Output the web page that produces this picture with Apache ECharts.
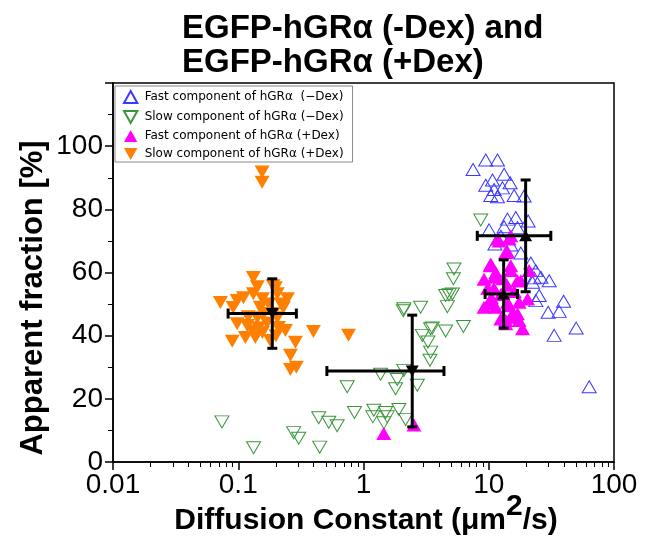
<!DOCTYPE html>
<html>
<head>
<meta charset="utf-8">
<script src="https://cdn.jsdelivr.net/npm/echarts@6/dist/echarts.min.js"></script>
<style>html,body{margin:0;padding:0;background:#fff}#c{width:664px;height:536px}</style>
</head>
<body>
<div id="c"></div>
<script>
// ---- data (Diffusion constant [um^2/s], apparent fraction [%]) ----
const seriesNames = [
  'Fast component of hGR\u03b1  (\u2212Dex)',
  'Slow component of hGR\u03b1 (\u2212Dex)',
  'Fast component of hGR\u03b1 (+Dex)',
  'Slow component of hGR\u03b1 (+Dex)'
];
const fastMinusDex = [
  [7.49,92.6],[9.46,95.6],[11.74,95.6],[13.26,91.1],[9.46,87.6],[10.71,89.3],[11.03,86.3],[12.87,86.8],
  [14.81,88.4],[10.38,84.4],[11.74,84.0],[15.94,84.4],[19.16,84.2],[10.06,73.5],[13.26,74.5],[14.11,76.9],
  [16.44,77.4],[16.97,74.2],[20.63,76.3],[15.0,68.7],[18.03,66.2],[21.68,63.0],[23.77,60.6],[23.04,58.3],
  [26.06,58.5],[30.37,57.4],[22.37,56.9],[25.26,52.7],[23.77,51.1],[39.6,50.9],[36.5,47.7],[29.8,47.4],
  [49.9,42.4],[33.3,40.1],[63.4,23.8],[12.5,71.5],[11.2,69]
];
const slowMinusDex = [
  [0.0741,12.7],[0.1326,4.5],[0.277,9.3],[0.304,7.5],[0.439,14.0],[0.528,12.6],[0.616,11.5],[0.447,4.7],
  [0.741,23.8],[0.847,15.7],[1.209,16.4],[1.187,14.3],[1.5,15.7],[1.547,14.3],[1.453,12.4],[1.916,16.6],
  [2.168,13.5],[1.368,27.8],[1.86,26.1],[1.803,23.2],[2.689,24.3],[2.101,48.5],[2.858,49.0],[2.949,40.1],
  [3.436,42.2],[3.27,38.0],[3.436,34.8],[3.392,32.2],[4.529,41.5],[4.529,52.7],[4.673,49.2],[8.63,76.6],
  [5.278,61.1],[5.22,58.0],[4.814,53.0],[5.124,53.2],[2.078,47.9],[3.545,42.4],[6.275,42.9],[2.1,29.0]
];
const fastPlusDex = [
  [12.09,70.0],[15.0,71.6],[14.11,66.6],[10.24,62.1],[9.17,57.9],[11.03,58.5],[15.0,62.1],[16.97,57.4],
  [21.0,60.6],[11.74,70.6],[14.53,70.6],[13.68,66.3],[10.38,62.7],[11.38,60.0],[15.0,60.6],[18.03,57.4],
  [10.06,50.6],[11.38,49.0],[14.11,50.6],[17.48,50.6],[20.4,51.6],[15.0,45.8],[18.61,42.2],[13.68,43.8],
  [16.97,46.9],[12.47,45.3],[10.38,50.1],[9.17,49.0],[14.53,49.5],[15.48,46.9],[17.48,44.8],[13.68,44.8],
  [11.0,55.0],[12.5,53.0],[14.0,56.0],[10.5,52.0],[13.0,58.0],[16.0,54.0],[9.8,55.0],
  [1.45,9.05],[2.53,11.7]
];
const slowPlusDex = [
  [0.155,91.8],[0.155,88.6],[0.072,50.5],[0.098,51.1],[0.091,48.9],[0.132,58.4],[0.142,55.5],[0.198,55.2],
  [0.132,53.3],[0.156,51.7],[0.247,51.7],[0.229,48.9],[0.098,43.8],[0.118,43.2],[0.114,39.4],[0.0895,38.2],
  [0.137,39.4],[0.156,41.0],[0.209,42.6],[0.238,41.6],[0.398,41.3],[0.759,40.1],[0.286,37.9],[0.261,33.8],
  [0.261,29.3],[0.291,30.0],[0.18,38.5],[0.142,45.7],[0.205,45.7],[0.19,55.8],[0.205,53.3],[0.16,47],
  [0.17,44],[0.12,46],[0.15,49],[0.19,47],[0.175,50],[0.13,41.5],[0.145,42.5],[0.2,40],[0.11,52],[0.22,50]
];
// mean and standard deviation of each component (order as seriesNames)
const meanX = [19.7, 2.45, 13.15, 0.187];
const meanY = [71.6, 28.8, 53.2, 47.0];
const sdX   = [11.6, 1.94, 3.8, 0.104];
const sdY   = [17.7, 17.7, 10.8, 11.0];
const meanUp = [true, false, true, false];
// axis ticks
const xTicks = [0.01, 0.1, 1, 10, 100];
const yTicks = [0, 20, 40, 60, 80, 100];

const colors = ['#3a3aff', '#3a963a', '#ff00ff', '#ff8000'];
const UP = 'path://M5,0L10,9L0,9Z';
const DOWN = 'path://M0,0L10,0L5,9Z';
const xMinor = [];
for (let d = 0; d < xTicks.length - 1; d++) for (let k = 2; k <= 9; k++) xMinor.push(+(xTicks[d] * k).toPrecision(3));

const errData = meanX.map((m, i) => [m, meanY[i], sdX[i], sdY[i]]);

const chart = echarts.init(document.getElementById('c'), null, {renderer: 'canvas'});
const FONT = 'Liberation Sans, Arial, sans-serif';

function scatter(name, data, color, hollow, down, z) {
  return {
    name, type: 'scatter', data, z,
    symbol: down ? DOWN : UP, symbolSize: hollow ? [14, 12] : [15, 13],
    itemStyle: hollow ? {color: 'rgba(255,255,255,0)', borderColor: color, borderWidth: 1, opacity: 1}
                      : {color: color, opacity: 1},
    emphasis: {disabled: true}, silent: true
  };
}

chart.setOption({
  animation: false,
  backgroundColor: '#fff',
  title: {
    text: 'EGFP-hGR\u03b1 (-Dex) and\nEGFP-hGR\u03b1 (+Dex)',
    left: 177, top: 7,
    textStyle: {fontFamily: FONT, fontSize: 33, fontWeight: 'bold', color: '#000', lineHeight: 34}
  },
  grid: {left: 113, right: 50, top: 83, bottom: 74, show: true, borderColor: '#000', borderWidth: 1.5, backgroundColor: 'transparent'},
  legend: {
    data: seriesNames, orient: 'vertical', left: 115, top: 86,
    backgroundColor: '#fff', borderColor: '#888', borderWidth: 1, borderRadius: 0,
    padding: [4, 9, 2, 8], itemGap: 6, itemWidth: 14, itemHeight: 12,
    textStyle: {fontFamily: 'DejaVu Sans', fontSize: 12, color: '#000', padding: [0, 0, 0, 2]},
    selectedMode: false
  },
  xAxis: [{
    type: 'log', logBase: 10, min: 0.01, max: 100,
    axisLine: {show: true, lineStyle: {color: '#000', width: 1.5}},
    axisTick: {show: true, length: 8, lineStyle: {color: '#000', width: 1.5}},
    axisLabel: {fontFamily: FONT, fontSize: 28, color: '#000', margin: 9,
      formatter: v => { const t = xTicks.find(a => Math.abs(Math.log10(a) - Math.log10(v)) < 1e-6); return t === undefined ? '' : String(t); }},
    splitLine: {show: false}
  }, {
    type: 'log', logBase: 10, min: 0.01, max: 100, position: 'bottom',
    axisLine: {show: false},
    axisTick: {show: true, length: 5, customValues: xMinor, lineStyle: {color: '#000', width: 1}},
    axisLabel: {show: false},
    splitLine: {show: false}
  }],
  yAxis: {
    type: 'value', min: 0, max: 120, interval: 20,
    axisLine: {show: true, lineStyle: {color: '#000', width: 1.5}},
    axisTick: {show: true, length: 8, lineStyle: {color: '#000', width: 1.5}},
    minorTick: {show: true, splitNumber: 2, length: 5, lineStyle: {color: '#000', width: 1}},
    axisLabel: {fontFamily: FONT, fontSize: 28, color: '#000', margin: 10, showMaxLabel: false,
      formatter: v => yTicks.includes(v) ? String(v) : ''},
    splitLine: {show: false}
  },
  graphic: [
    {type: 'text', x: 33, y: 298, rotation: Math.PI / 2,
      style: {text: 'Apparent fraction [%]', fontFamily: FONT, fontSize: 31, fontWeight: 'bold', fill: '#000', align: 'center', verticalAlign: 'middle'}},
    {type: 'text', x: 366, y: 514,
      style: {text: '{a|Diffusion Constant (\u03bcm}{s|2}{a|/s)}', align: 'center', verticalAlign: 'middle',
        rich: {
          a: {fontFamily: FONT, fontSize: 30, fontWeight: 'bold', fill: '#000', verticalAlign: 'bottom'},
          s: {fontFamily: FONT, fontSize: 30, fontWeight: 'bold', fill: '#000', verticalAlign: 'bottom', padding: [0, 0, 14, 0]}
        }}}
  ],
  series: [
    scatter(seriesNames[1], slowMinusDex, colors[1], true, true, 2),
    scatter(seriesNames[0], fastMinusDex, colors[0], true, false, 3),
    scatter(seriesNames[2], fastPlusDex, colors[2], false, false, 4),
    scatter(seriesNames[3], slowPlusDex, colors[3], false, true, 5),
    {
      type: 'custom', z: 10, silent: true, data: errData,
      renderItem: function (params, api) {
        const mx = api.value(0), my = api.value(1), sx = api.value(2), sy = api.value(3);
        const c = api.coord([mx, my]);
        const l = api.coord([mx - sx, my]), r = api.coord([mx + sx, my]);
        const t = api.coord([mx, my + sy]), b = api.coord([mx, my - sy]);
        const cap = 5, st = {stroke: '#000', lineWidth: 3};
        const line = (x1, y1, x2, y2) => ({type: 'line', shape: {x1, y1, x2, y2}, style: st});
        return {type: 'group', children: [
          line(l[0], c[1], r[0], c[1]),
          line(l[0], c[1] - cap, l[0], c[1] + cap),
          line(r[0], c[1] - cap, r[0], c[1] + cap),
          line(c[0], t[1], c[0], b[1]),
          line(c[0] - cap, t[1], c[0] + cap, t[1]),
          line(c[0] - cap, b[1], c[0] + cap, b[1])
        ]};
      }
    },
    {
      type: 'scatter', z: 11, silent: true,
      data: meanX.map((m, i) => ({value: [m, meanY[i]], symbol: meanUp[i] ? UP : DOWN})),
      symbolSize: [13, 11], itemStyle: {color: '#000', opacity: 1}
    }
  ]
});
</script>
</body>
</html>
